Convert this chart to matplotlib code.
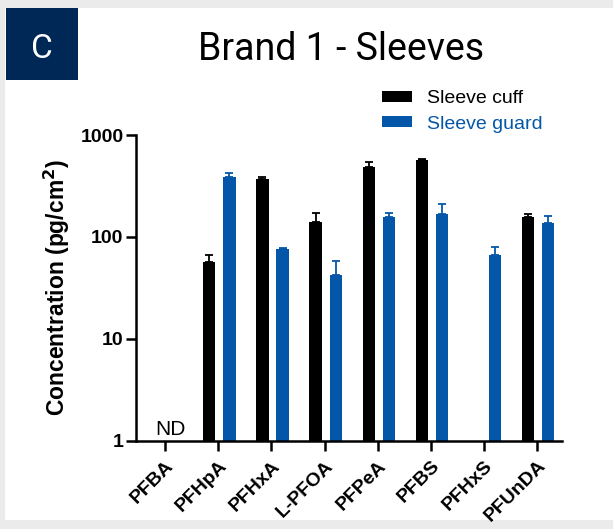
import numpy as np
import matplotlib
matplotlib.use('Agg')
import matplotlib.pyplot as plt
from matplotlib.patches import Rectangle, Patch

# PFAS concentrations per compound (pg/cm2), mean and upper SD
compostos = ['PFBA', 'PFHpA', 'PFHxA', 'L-PFOA', 'PFPeA', 'PFBS', 'PFHxS', 'PFUnDA']
cuff = [np.nan, 57, 370, 140, 486, 569, np.nan, 157]
cuff_err = [0, 9, 18, 32, 57, 12, 0, 11]
guard = [np.nan, 388, 76, 42, 157, 168, 67, 137]
guard_err = [0, 36, 1, 16, 15, 42, 13, 24]
nd_label = 'ND'

azul = '#0457a8'
navy = '#002856'

plt.rcParams['font.family'] = ['Liberation Sans', 'DejaVu Sans']

fig = plt.figure(figsize=(6.13, 5.29), dpi=100, facecolor='#ebebeb')

# painel branco e caixa da letra
fig.patches.append(Rectangle((5 / 613, 1 - 520 / 529), 608 / 613, 512 / 529,
                             transform=fig.transFigure, facecolor='white', edgecolor='none', zorder=-2))
fig.patches.append(Rectangle((6 / 613, 1 - 80 / 529), 72 / 613, 72 / 529,
                             transform=fig.transFigure, facecolor=navy, edgecolor='none', zorder=-1))
fig.text(42 / 613, 1 - 49 / 529, 'C', color='white', fontsize=24, fontfamily='Roboto',
         ha='center', va='center')
fig.text(341 / 613, 1 - 50 / 529, 'Brand 1 - Sleeves', color='black', fontsize=27,
         fontfamily='Roboto', ha='center', va='center')

ax = fig.add_axes([136 / 613, 1 - 440.7 / 529, 426 / 613, (440.7 - 135) / 529])
ax.set_facecolor('none')
ax.set_zorder(2)

x = np.arange(len(compostos))
w = 0.23
ax.bar(x - 0.17, cuff, width=w, color='black', zorder=2)
ax.bar(x + 0.21, guard, width=w, color=azul, zorder=2)
ax.errorbar(x - 0.17, cuff, yerr=[np.zeros(len(cuff)), cuff_err], fmt='none',
            ecolor='black', elinewidth=1.3, capsize=3, capthick=1.3, zorder=3)
ax.errorbar(x + 0.21, guard, yerr=[np.zeros(len(guard)), guard_err], fmt='none',
            ecolor=azul, elinewidth=1.3, capsize=3, capthick=1.3, zorder=3)

ax.set_yscale('log')
ax.set_ylim(1, 1000)
ax.set_xlim(-0.55, 7.47)
ax.set_yticks([1, 10, 100, 1000])
ax.set_yticklabels(['1', '10', '100', '1000'])
ax.minorticks_off()
ax.set_xticks(x)
ax.set_xticklabels(compostos, rotation=45, ha='right', rotation_mode='anchor')

for lab in ax.get_xticklabels() + ax.get_yticklabels():
    lab.set_fontweight('bold')
    lab.set_fontsize(14)

ax.tick_params(axis='both', width=1.8, length=7, pad=2)
ax.tick_params(axis='x', pad=5)
for s in ['top', 'right']:
    ax.spines[s].set_visible(False)
for s in ['left', 'bottom']:
    ax.spines[s].set_linewidth(1.8)

ax.set_ylabel('Concentration (pg/cm$^{\\mathbf{2}}$)', fontsize=16.5, fontweight='bold', labelpad=6)

ax.text(0.1, 1.05, nd_label, fontsize=15, ha='center', va='bottom')

handles = [Patch(facecolor='black', label='Sleeve cuff'),
           Patch(facecolor=azul, label='Sleeve guard')]
leg = fig.legend(handles=handles, loc='upper left', bbox_to_anchor=(382 / 613, 1 - 90 / 529),
                 frameon=False, fontsize=14, handlelength=1.55, handleheight=0.5,
                 handletextpad=0.77, labelspacing=0.45, borderpad=0, borderaxespad=0)
leg.get_texts()[1].set_color(azul)

fig.savefig('out.png', dpi=100, facecolor=fig.get_facecolor())
